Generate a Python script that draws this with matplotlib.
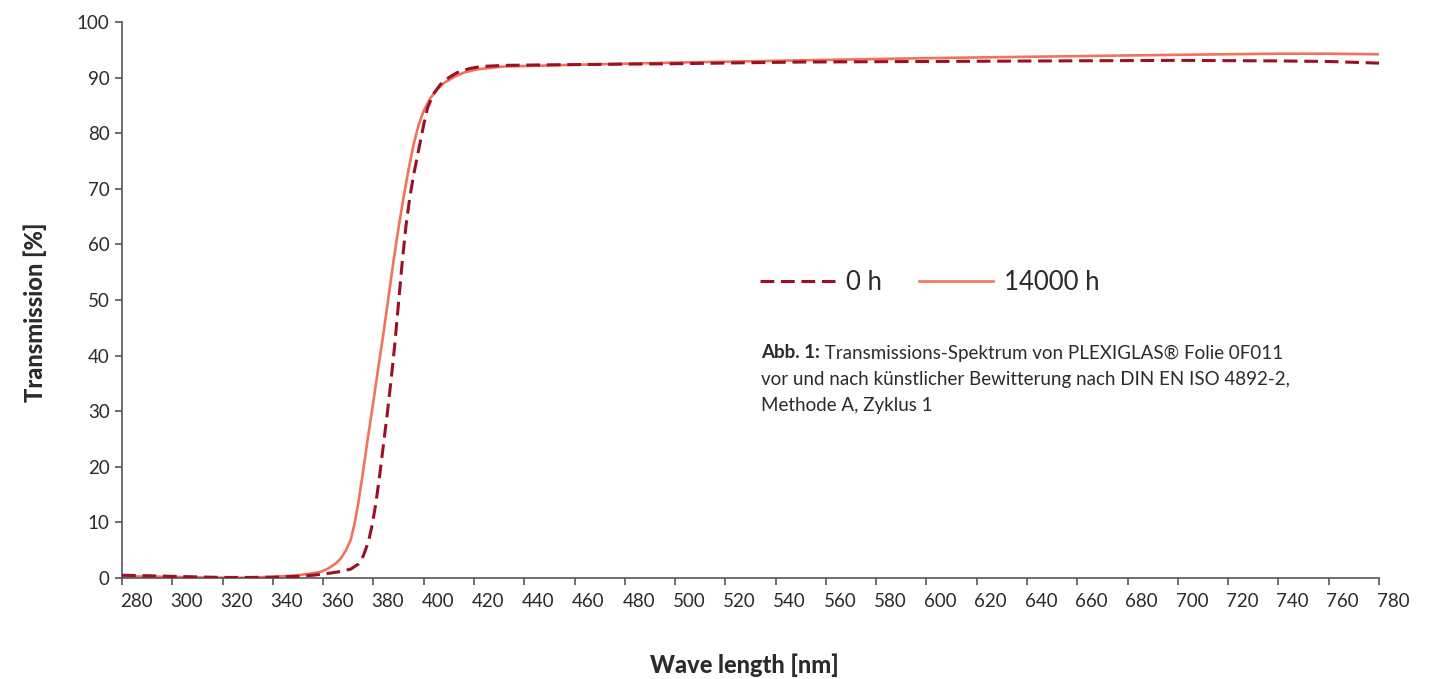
import matplotlib
matplotlib.use("Agg")
import matplotlib.pyplot as plt
import matplotlib.transforms as mtransforms

# Transmission spectra
wl_0h = [280, 290, 300, 310, 320, 330, 340, 350, 356, 361.6, 366, 371, 374, 376,
         378, 379.5, 381, 382.5, 384, 385.5, 387, 388.5, 390, 391.5, 393, 394.5,
         396, 398, 400, 401.5, 403.8, 406.7, 410, 413.3, 418, 422.6, 432, 450,
         500, 550, 600, 650, 700, 740, 760, 780]
t_0h = [0.5, 0.4, 0.3, 0.2, 0.1, 0.1, 0.15, 0.3, 0.5, 0.8, 1.1, 1.6, 2.5, 4.0,
        6.5, 9.5, 13.5, 18.5, 24.0, 29.5, 35.5, 42.0, 49.5, 57.0, 63.5, 68.5,
        72.5, 77.0, 81.5, 84.5, 87.0, 88.8, 90.0, 90.9, 91.6, 92.0, 92.2, 92.3,
        92.5, 92.8, 92.9, 93.0, 93.1, 93.0, 92.9, 92.6]

wl_14000h = [280, 290, 300, 310, 320, 330, 340, 345, 350, 355, 359, 362, 365, 367,
             369, 371, 372.5, 374, 376, 378, 380, 382, 384, 386, 388, 390, 392,
             394, 396, 398, 400, 402.5, 405.4, 408, 412, 416, 421.4, 432, 442.6,
             460, 500, 550, 600, 650, 700, 740, 760, 780]
t_14000h = [0.3, 0.25, 0.2, 0.1, 0.05, 0.05, 0.2, 0.35, 0.5, 0.8, 1.1, 1.7, 2.6, 3.5,
            4.9, 6.9, 9.8, 13.5, 19.5, 25.8, 31.8, 38.0, 44.0, 50.5, 57.0, 63.0, 68.5,
            73.5, 78.0, 81.5, 84.0, 86.2, 87.9, 89.0, 90.1, 90.9, 91.5, 92.0, 92.1,
            92.3, 92.7, 93.1, 93.5, 93.8, 94.1, 94.3, 94.3, 94.2]

x_ticks = list(range(280, 781, 20))
y_ticks = list(range(0, 101, 10))

plt.rcParams['font.family'] = ['Lato', 'DejaVu Sans']
text_color = '#2b2b2b'
axis_color = '#555555'

fig = plt.figure(figsize=(14.39, 6.79), dpi=100)
ax = fig.add_axes([122 / 1439, 101 / 679, 1257 / 1439, 556 / 679])

ax.plot(wl_14000h, t_14000h, color='#f0735a', linewidth=1.9, label='14000 h', zorder=2)
ax.plot(wl_0h, t_0h, color='#9c1026', linewidth=2.2, dashes=(4.5, 2.2), label='0 h', zorder=3)

ax.set_xlim(280, 780)
ax.set_ylim(0, 100)
ax.set_xticks(x_ticks)
ax.set_yticks(y_ticks)

for side in ['top', 'right']:
    ax.spines[side].set_visible(False)
for side in ['left', 'bottom']:
    ax.spines[side].set_color(axis_color)
    ax.spines[side].set_linewidth(1.2)

ax.tick_params(axis='both', direction='out', length=5, width=1.2, color=axis_color,
               labelsize=13.5, labelcolor=text_color)
ax.tick_params(axis='x', pad=6)
ax.tick_params(axis='y', pad=4)

# x tick labels sit a little right of their ticks in the reference
shift = mtransforms.ScaledTranslation(14 / 100, 0, fig.dpi_scale_trans)
for lbl in ax.get_xticklabels():
    lbl.set_transform(lbl.get_transform() + shift)

fig.text(744 / 1439, 1 - 665 / 679, 'Wave length [nm]', ha='center', va='center',
         fontsize=17, fontweight='black', color=text_color)
fig.text(35 / 1439, 1 - 312 / 679, 'Transmission [%]', ha='center', va='center',
         rotation=90, fontsize=17, fontweight='black', color=text_color)

# legend: dashed first, then solid
handles, labels = ax.get_legend_handles_labels()
ax.legend(handles[::-1], labels[::-1], loc='center left',
          bbox_to_anchor=((760 - 122) / 1257, (578 - 282) / 556),
          ncol=2, frameon=False, fontsize=18.5, handlelength=2.9,
          handletextpad=0.43, columnspacing=1.45, borderpad=0, borderaxespad=0,
          labelcolor=text_color)

# caption with bold prefix
cap_x = 761 / 1439
bold = fig.text(cap_x, 1 - 353 / 679, 'Abb. 1:', ha='left', va='center',
                fontsize=13.5, fontweight='bold', color=text_color)
ax.annotate(' Transmissions-Spektrum von PLEXIGLAS\u00ae Folie 0F011',
            xy=(1, 0), xycoords=bold, ha='left', va='bottom',
            fontsize=13.5, color=text_color)
fig.text(cap_x, 1 - 380 / 679, 'vor und nach k\u00fcnstlicher Bewitterung nach DIN EN ISO 4892-2,',
         ha='left', va='center', fontsize=13.5, color=text_color)
fig.text(cap_x, 1 - 406 / 679, 'Methode A, Zyklus 1',
         ha='left', va='center', fontsize=13.5, color=text_color)

fig.savefig('out.png', dpi=100)
